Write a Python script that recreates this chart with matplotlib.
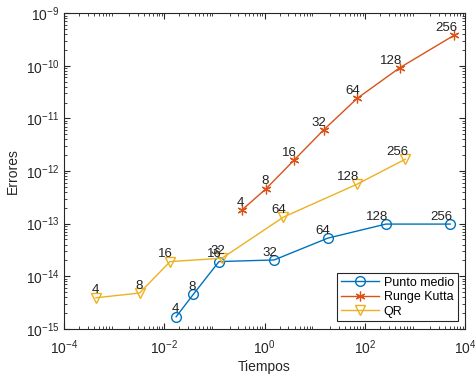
import matplotlib
matplotlib.use("Agg")
import matplotlib.pyplot as plt

plt.rcParams['font.family'] = ['Liberation Sans', 'DejaVu Sans']
plt.rcParams['mathtext.fontset'] = 'custom'
plt.rcParams['mathtext.rm'] = 'Liberation Sans'
plt.rcParams['mathtext.it'] = 'Liberation Sans'

n_labels = ['4', '8', '16', '32', '64', '128', '256']

# Punto medio
t_pm = [0.0172, 0.0376, 0.123, 1.55, 18.3, 263, 5040]
e_pm = [1.7e-15, 4.5e-15, 1.9e-14, 2.04e-14, 5.3e-14, 9.8e-14, 9.8e-14]

# Runge Kutta
t_rk = [0.35, 1.07, 3.9, 15.0, 70.5, 493, 6070]
e_rk = [1.8e-13, 4.6e-13, 1.62e-12, 6.0e-12, 2.4e-11, 9.1e-11, 3.8e-10]

# QR
t_qr = [4.3e-4, 3.2e-3, 0.013, 0.141, 2.38, 69.6, 640]
e_qr = [3.9e-15, 4.8e-15, 1.9e-14, 2.2e-14, 1.33e-13, 5.6e-13, 1.67e-12]

c_pm = (0.0, 0.447, 0.741)
c_rk = (0.85, 0.325, 0.098)
c_qr = (0.929, 0.694, 0.125)

fig = plt.figure(figsize=(4.75, 3.75), dpi=100)
ax = fig.add_axes([0.135, 0.123, 0.844, 0.842])

ax.plot(t_pm, e_pm, marker='o', color=c_pm, lw=1, ms=7, mfc='none', label='Punto medio')
ax.plot(t_rk, e_rk, marker=(6, 2, 0), color=c_rk, lw=1, ms=7, mew=0.9, label='Runge Kutta')
ax.plot(t_qr, e_qr, marker='v', color=c_qr, lw=1, ms=7, mfc='none', label='QR')

for ts, es in [(t_pm, e_pm), (t_rk, e_rk), (t_qr, e_qr)]:
    for t, e, s in zip(ts, es, n_labels):
        ax.annotate(s, (t, e), xytext=(2, 1), textcoords='offset points',
                    ha='right', va='bottom', fontsize=9.5, color='#222222')

ax.set_xscale('log')
ax.set_yscale('log')
ax.set_xlim(1e-4, 1e4)
ax.set_ylim(1e-15, 1e-9)
ax.set_xticks([1e-4, 1e-2, 1e0, 1e2, 1e4])
ax.set_yticks([1e-15, 1e-14, 1e-13, 1e-12, 1e-11, 1e-10, 1e-9])
ax.tick_params(which='both', direction='in', top=True, right=True,
               labelsize=10, colors='#262626')
ax.tick_params(which='major', length=4)
ax.tick_params(which='minor', length=2)
ax.tick_params(axis='x', which='major', pad=7)
ax.set_xlabel('Tiempos', fontsize=10, color='#262626', labelpad=2)
ax.set_ylabel('Errores', fontsize=10, color='#262626')
for sp in ax.spines.values():
    sp.set_color('#262626')
    sp.set_linewidth(0.8)

leg = ax.legend(loc='lower right', fontsize=9, fancybox=False, edgecolor='#262626',
                framealpha=1, handlelength=3, borderaxespad=0.6, borderpad=0.3,
                labelspacing=0.2, handletextpad=0.4)
leg.get_frame().set_linewidth(0.8)

fig.savefig('out.png', dpi=100)
